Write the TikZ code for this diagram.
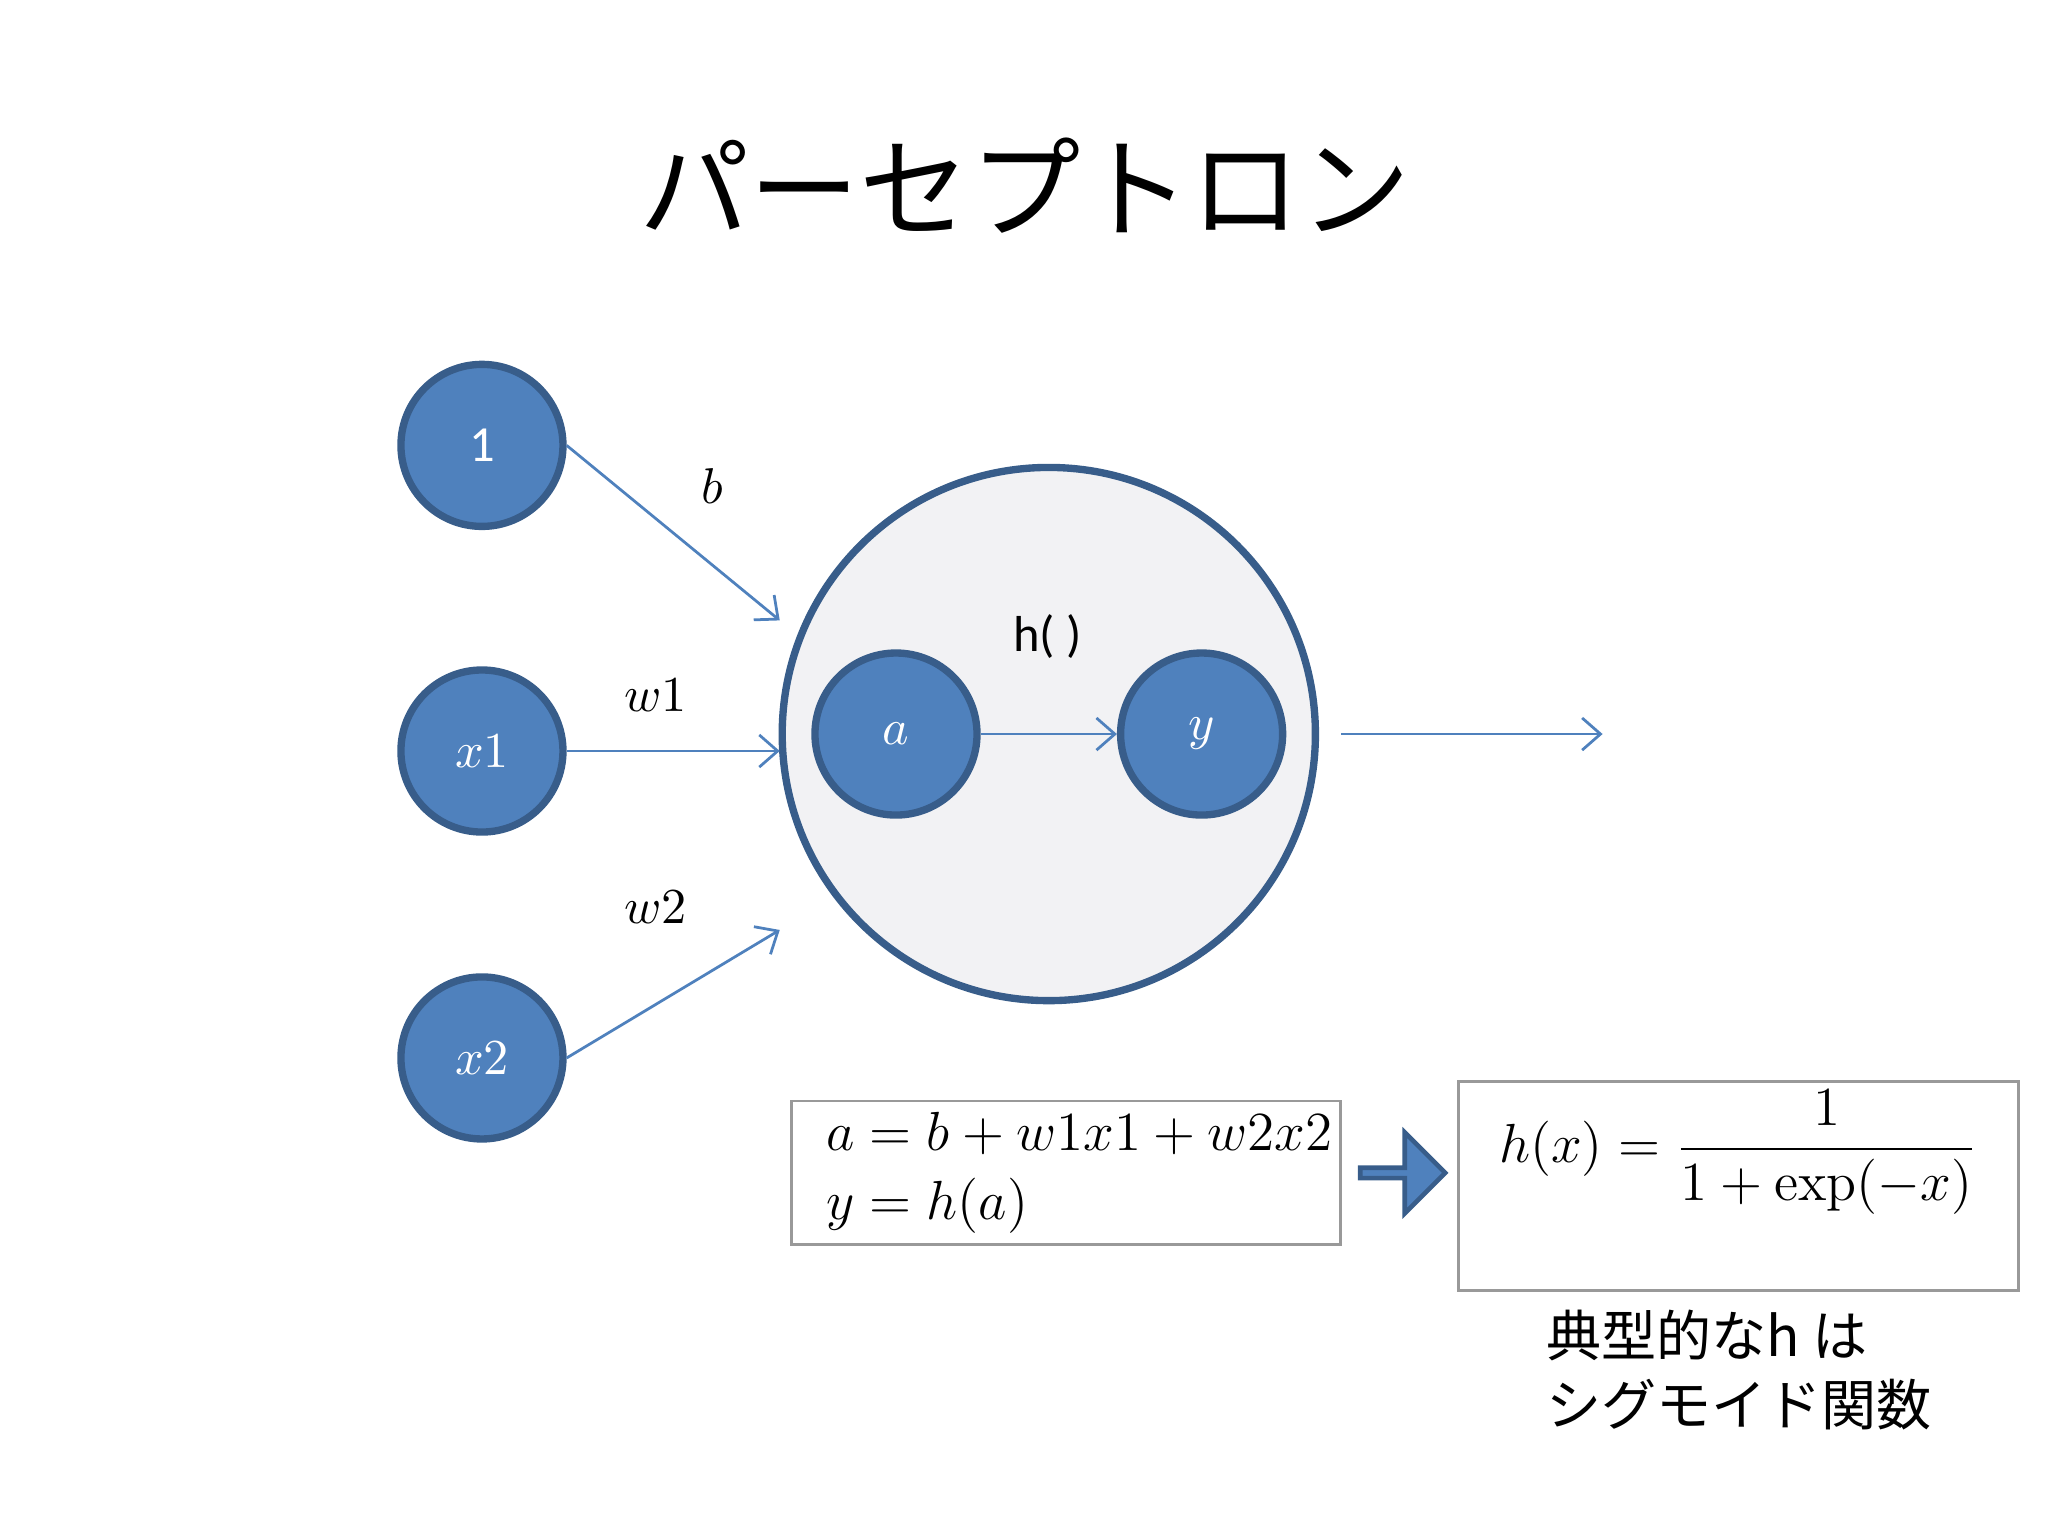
\documentclass[tikz,border=0pt]{standalone}
\usepackage{fontspec}
\usepackage{amsmath}
\newfontfamily\cjk{Noto Sans CJK JP}
\setsansfont{Carlito}
\usetikzlibrary{arrows.meta,shapes.arrows}
\definecolor{nodeblue}{HTML}{4F81BD}
\definecolor{edgeblue}{HTML}{385D8A}
\definecolor{bigfill}{HTML}{F2F2F4}
\tikzset{
  neuron/.style={circle,fill=nodeblue,draw=edgeblue,line width=1.6pt,minimum size=1.24cm,inner sep=0pt,text=white,font=\fontsize{11}{13}\selectfont},
  conn/.style={draw=nodeblue,line width=0.6pt,-{Straight Barb[length=4pt,width=7pt]}},
  lab/.style={font=\fontsize{11}{13}\selectfont},
  fbox/.style={draw=gray!80,line width=0.6pt,fill=white}
}
\begin{document}
\begin{tikzpicture}[x=0.01cm,y=-0.01cm]
\useasboundingbox (0,0) rectangle (1568,1176);
\node[font=\cjk\fontsize{24}{28}\selectfont] (title) at (785,142) {パーセプトロン};
\node[circle,fill=bigfill,draw=edgeblue,line width=1.6pt,minimum size=4.08cm] (big) at (803,562) {};
\node[neuron] (one) at (369,341) {\sffamily 1};
\node[neuron] (x1) at (369,575) {$x1$};
\node[neuron] (x2) at (369,810) {$x2$};
\node[neuron] (a) at (686,562) {$a$};
\node[neuron] (y) at (920,562) {$y$};
\coordinate (t1) at (597,475);
\coordinate (t2) at (597,575);
\coordinate (t3) at (597,712);
\coordinate (o1) at (1027,562);
\coordinate (o2) at (1227,562);
\draw[conn] (one.east) -- (t1);
\draw[conn] (x1.east) -- (t2);
\draw[conn] (x2.east) -- (t3);
\draw[conn] (a) -- (y);
\draw[conn] (o1) -- (o2);
\node[lab] (lb) at (545,372) {$b$};
\node[lab] (lw1) at (502,532) {$w1$};
\node[lab] (lw2) at (502,695) {$w2$};
\node[font=\sffamily\fontsize{11}{13}\selectfont] (lh) at (802,487) {h( )};
\node[fbox,minimum width=4.2cm,minimum height=1.1cm] (eq1) at (816,898) {};
\node[anchor=west,align=left,font=\fontsize{12}{15}\selectfont] (eq1t) at (620,898) {$a=b+w1x1+w2x2$\\$y=h(a)$};
\node[single arrow,fill=nodeblue,draw=edgeblue,line width=1pt,minimum width=0.62cm,single arrow head extend=0.12cm,single arrow head indent=0cm,minimum height=0.65cm,inner sep=0pt] (barrow) at (1072,898) {};
\node[fbox,minimum width=4.29cm,minimum height=1.6cm] (eq2) at (1331,908) {};
\node[font=\fontsize{12}{15}\selectfont] (eq2t) at (1331,882) {$h(x)=\dfrac{1}{1+\exp(-x)}$};
\node[anchor=north west,align=left,font=\cjk\fontsize{12}{15}\selectfont,inner sep=0pt] (note) at (1183,1002) {典型的なh は\\シグモイド関数};
\end{tikzpicture}
\end{document}
